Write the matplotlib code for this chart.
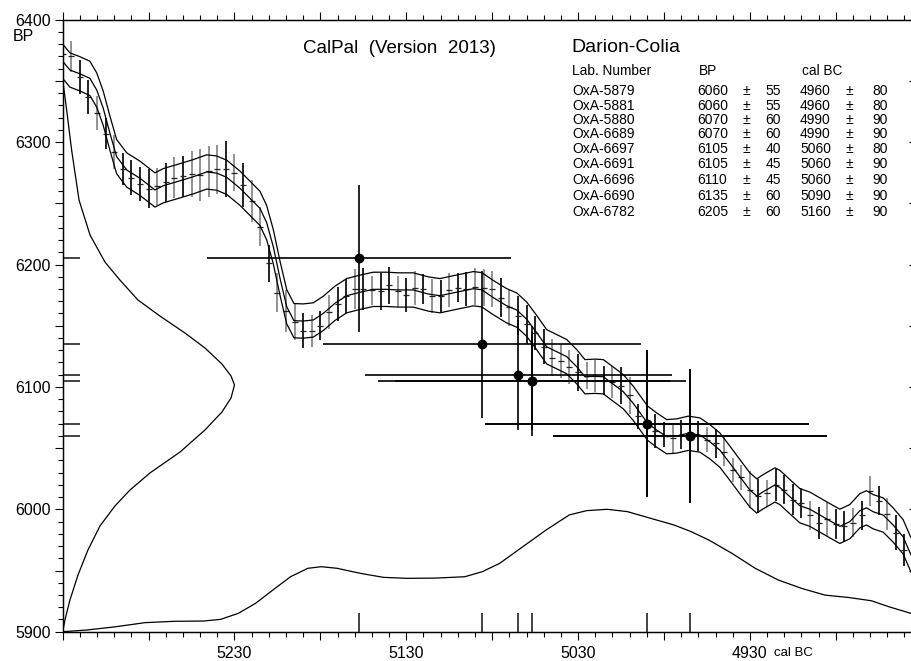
import numpy as np
import matplotlib
matplotlib.use("Agg")
import matplotlib.pyplot as plt
from matplotlib.ticker import FixedLocator, MultipleLocator, FuncFormatter

plt.rcParams["font.family"] = ["Liberation Sans", "DejaVu Sans"]

FIG_W, FIG_H = 911, 661

SITE = "Darion-Colia"
TITLE = "CalPal  (Version  2013)"

# --------------------------------------------------
# 14C dates of the site
# --------------------------------------------------
lab_ids = ["OxA-5879", "OxA-5881", "OxA-5880", "OxA-6689", "OxA-6697",
           "OxA-6691", "OxA-6696", "OxA-6690", "OxA-6782"]
bp = [6060, 6060, 6070, 6070, 6105, 6105, 6110, 6135, 6205]
bp_err = [55, 55, 60, 60, 40, 45, 45, 60, 60]
cal_bc = [4964.7, 4964.7, 4989.7, 4989.7, 5056.7, 5056.7, 5064.9, 5085.9, 5157.5]
cal_err = [79.7, 79.7, 94.3, 94.3, 80.0, 89.6, 89.3, 92.5, 88.5]

# --------------------------------------------------
# calibration curve (centre line, cal BC / BP) and its 1-sigma width
# --------------------------------------------------
curve_cal = [5329.8, 5325.8, 5320.0, 5314.2, 5310.2, 5306.4, 5302.5, 5298.6, 5292.7,
             5285.0, 5276.3, 5271.4, 5263.6, 5254.0, 5246.2, 5240.4, 5234.5, 5226.8,
             5221.0, 5215.2, 5211.3, 5207.4, 5203.5, 5199.6, 5195.4, 5190.0, 5184.1,
             5178.3, 5171.5, 5164.7, 5157.0, 5149.2, 5141.4, 5134.7, 5125.9, 5117.2,
             5110.4, 5100.7, 5091.0, 5086.1, 5079.4, 5071.6, 5065.7, 5059.9, 5054.1,
             5048.3, 5042.5, 5036.6, 5030.8, 5026.0, 5020.2, 5015.3, 5009.5, 5003.7,
             4997.9, 4989.5, 4984.3, 4978.4, 4972.6, 4965.9, 4959.1, 4953.3, 4947.5,
             4941.6, 4935.8, 4930.0, 4926.0, 4922.2, 4915.4, 4912.5, 4906.7, 4900.9,
             4895.1, 4889.2, 4883.4, 4877.6, 4871.8, 4866.0, 4862.1, 4858.2, 4852.4,
             4846.6, 4840.8, 4836.2]
curve_bp = [6365.7, 6358.9, 6355.8, 6352.1, 6342.6, 6327.6, 6307.2, 6288.1, 6277.2,
            6270.4, 6260.9, 6264.4, 6267.6, 6271.7, 6275.6, 6274.7, 6271.2, 6262.3,
            6254.1, 6245.9, 6234.3, 6214.5, 6188.7, 6165.5, 6154.1, 6153.8, 6154.7,
            6160.1, 6168.3, 6174.5, 6177.3, 6179.7, 6179.7, 6179.2, 6179.2, 6175.9,
            6174.5, 6177.4, 6180.2, 6179.4, 6173.0, 6166.3, 6162.8, 6155.3, 6144.4,
            6132.8, 6128.8, 6124.7, 6116.5, 6108.3, 6108.7, 6108.3, 6102.2, 6096.1,
            6086.6, 6070.3, 6064.8, 6059.3, 6059.9, 6062.1, 6060.7, 6055.2, 6048.4,
            6037.6, 6026.6, 6015.8, 6010.9, 6014.4, 6019.9, 6017.8, 6010.3, 6002.9,
            6000.1, 5995.3, 5990.6, 5986.1, 5989.9, 5998.8, 6001.2, 5998.0, 5995.3,
            5987.2, 5977.6, 5962.7]
curve_sigma = 14

# raw calibration data, one value every 5 years
bar_cal = list(range(5330, 4839, -5))
bar_bp = [6372, 6370, 6353, 6337, 6324, 6307, 6292, 6278, 6271, 6266,
          6262, 6264, 6267, 6271, 6272, 6274, 6273, 6276, 6278, 6278,
          6275, 6265, 6252, 6231, 6201, 6177, 6162, 6153, 6146, 6146,
          6150, 6161, 6168, 6174, 6180, 6180, 6179, 6178, 6183, 6178,
          6175, 6181, 6180, 6174, 6174, 6179, 6181, 6180, 6182, 6181,
          6180, 6173, 6165, 6158, 6151, 6144, 6133, 6124, 6121, 6116,
          6112, 6109, 6109, 6105, 6104, 6101, 6093, 6076, 6069, 6064,
          6061, 6058, 6061, 6062, 6060, 6057, 6054, 6047, 6032, 6026,
          6016, 6011, 6013, 6020, 6016, 6008, 6005, 5995, 5989, 5992,
          5988, 5986, 5989, 5995, 6015, 6007, 5996, 5981, 5967]
bar_err = [13, 13, 14, 14, 14, 13, 14, 13, 14, 14,
           16, 15, 16, 17, 17, 19, 21, 21, 20, 23,
           15, 18, 17, 16, 15, 16, 17, 15, 14, 13,
           12, 14, 14, 14, 16, 17, 12, 15, 15, 13,
           14, 14, 12, 14, 13, 14, 12, 14, 15, 15,
           15, 16, 15, 16, 16, 14, 14, 15, 14, 14,
           15, 11, 13, 12, 13, 15, 15, 10, 11, 14,
           10, 12, 12, 12, 12, 10, 12, 12, 10, 10,
           15, 14, 11, 13, 12, 13, 12, 12, 13, 14,
           12, 13, 12, 12, 12, 12, 13, 14, 13]
bar_dark = [1, 0, 1, 1, 0, 1, 0, 1, 1, 1,
            1, 0, 1, 0, 1, 0, 0, 0, 0, 1,
            0, 1, 0, 0, 1, 0, 0, 0, 1, 0,
            1, 0, 1, 1, 0, 1, 0, 1, 1, 0,
            1, 0, 1, 0, 1, 0, 1, 1, 0, 0,
            0, 1, 0, 1, 1, 1, 1, 0, 0, 0,
            1, 0, 0, 1, 0, 1, 0, 1, 0, 1,
            1, 0, 1, 0, 1, 0, 1, 0, 0, 0,
            0, 1, 0, 1, 1, 1, 1, 0, 1, 0,
            1, 1, 0, 1, 0, 1, 0, 1, 1]

# --------------------------------------------------
# summed probabilities, normalised to 1 at the peak
# --------------------------------------------------
bp_dist_bp = [6350.7, 6326.2, 6293.5, 6252.7, 6224.1, 6202.0, 6187.3, 6171.0, 6157.9,
              6144.0, 6131.8, 6118.7, 6108.9, 6101.6, 6091.0, 6079.5, 6064.8, 6046.8,
              6029.7, 6015.8, 6002.7, 5986.4, 5966.8, 5946.3, 5925.8, 5909.6, 5900.0]
bp_dist_p = [0.0, 0.023, 0.052, 0.095, 0.159, 0.246, 0.333, 0.438, 0.566,
             0.712, 0.828, 0.927, 0.980, 1.0, 0.980, 0.927, 0.828, 0.683,
             0.508, 0.392, 0.304, 0.217, 0.147, 0.089, 0.042, 0.013, 0.0]

cal_dist_cal = [5330.0, 5315.8, 5298.9, 5282.0, 5265.0, 5248.2, 5238.0, 5227.8, 5217.7,
                5207.6, 5197.4, 5187.3, 5179.5, 5170.3, 5156.8, 5143.3, 5129.8, 5112.9,
                5096.0, 5085.8, 5075.7, 5062.1, 5048.6, 5035.1, 5025.0, 5013.1, 5001.3,
                4987.7, 4974.2, 4964.1, 4953.9, 4940.4, 4926.9, 4913.4, 4899.9, 4886.3,
                4872.8, 4859.3, 4849.1, 4836.3]
cal_dist_p = [0.0, 0.014, 0.041, 0.074, 0.085, 0.087, 0.101, 0.150, 0.232,
              0.341, 0.449, 0.518, 0.531, 0.518, 0.477, 0.444, 0.436, 0.438,
              0.449, 0.490, 0.558, 0.695, 0.831, 0.954, 0.989, 1.0, 0.981,
              0.926, 0.872, 0.817, 0.749, 0.640, 0.518, 0.422, 0.354, 0.299,
              0.280, 0.253, 0.204, 0.150]

X_LEFT, X_RIGHT = 5330, 4833
Y_BOTTOM, Y_TOP = 5900, 6400
X_LABELS = [5230, 5130, 5030, 4930]
DIST_HEIGHT = 100   # peak of the probability curves in axis units


def fig_xy(x, y):
    """pixel position (from top left) -> figure fraction"""
    return x / FIG_W, 1 - y / FIG_H


def round10(v):
    return int(round(v / 10.0) * 10)


def draw_axes(fig):
    left, bottom = fig_xy(62.7, 631.7)
    right, top = fig_xy(916.5, 19.7)
    ax = fig.add_axes([left, bottom, right - left, top - bottom])
    ax.set_xlim(X_LEFT, X_RIGHT)
    ax.set_ylim(Y_BOTTOM, Y_TOP)

    for s in ax.spines.values():
        s.set_linewidth(1.0)

    ax.xaxis.set_major_locator(FixedLocator(np.arange(5330, 4829, -50)))
    ax.xaxis.set_minor_locator(FixedLocator(np.arange(5330, 4829, -10)))
    ax.xaxis.set_major_formatter(
        FuncFormatter(lambda v, pos: f"{v:.0f}" if round(v) in X_LABELS else ""))

    ax.yaxis.set_major_locator(MultipleLocator(50))
    ax.yaxis.set_minor_locator(MultipleLocator(10))
    ax.yaxis.set_major_formatter(
        FuncFormatter(lambda v, pos: f"{v:.0f}" if round(v) % 100 == 0 else ""))

    ax.tick_params(axis="x", which="both", direction="out", top=True, bottom=True,
                   labelsize=11.5, pad=4.5, width=0.8)
    ax.tick_params(axis="y", which="both", direction="out", left=True, right=False,
                   labelsize=11.5, pad=3, width=0.8)
    ax.tick_params(which="major", length=5.8)
    ax.tick_params(which="minor", length=3.6)

    # right hand side: ticks pointing inwards
    ax_r = ax.twinx()
    ax_r.set_ylim(Y_BOTTOM, Y_TOP)
    ax_r.yaxis.set_major_locator(MultipleLocator(50))
    ax_r.yaxis.set_minor_locator(MultipleLocator(10))
    ax_r.tick_params(axis="y", which="both", direction="in", labelright=False, width=0.8)
    ax_r.tick_params(which="major", length=5.8)
    ax_r.tick_params(which="minor", length=3.6)
    ax_r.spines["right"].set_linewidth(1.0)

    ax.annotate("cal BC", xy=(4930, 0), xycoords=("data", "axes fraction"),
                xytext=(17.5, -17.8), textcoords="offset points",
                fontsize=9.5, ha="left", va="baseline")
    return ax


def draw_curve(ax):
    cal = np.array(curve_cal)
    mid = np.array(curve_bp)
    ax.plot(cal, mid, color="black", lw=0.9, zorder=3)
    ax.plot(cal, mid + curve_sigma, color="black", lw=0.9, zorder=3)
    ax.plot(cal, mid - curve_sigma, color="black", lw=0.9, zorder=3)

    c = np.array(bar_cal)
    v = np.array(bar_bp)
    e = np.array(bar_err)
    cols = ["#111111" if d else "#8a8a8a" for d in bar_dark]
    ax.vlines(c, v - e, v + e, colors=cols, lw=1.3, zorder=2)
    ax.plot(c, v, ls="none", marker="_", ms=4, mew=0.9, color="#222222", zorder=2)


def draw_distributions(ax):
    ax.plot(X_LEFT - DIST_HEIGHT * np.array(bp_dist_p), bp_dist_bp,
            color="black", lw=0.9, zorder=3)
    ax.plot(cal_dist_cal, Y_BOTTOM + DIST_HEIGHT * np.array(cal_dist_p),
            color="black", lw=0.9, zorder=3)


def draw_dates(ax):
    ax.errorbar(cal_bc, bp, xerr=cal_err, yerr=bp_err, fmt="o", color="black",
                ms=6, elinewidth=1.2, capsize=0, zorder=5)

    # marks of the dates on both axes
    ax.hlines(sorted(set(bp)), 0, 0.02, transform=ax.get_yaxis_transform(),
              color="#222222", lw=1.2, zorder=4)
    ax.vlines(sorted(set(cal_bc)), 0, 0.031, transform=ax.get_xaxis_transform(),
              color="#222222", lw=1.2, zorder=4)


def draw_texts(fig):
    fig.text(*fig_xy(12.7, 40.7), "BP", fontsize=11.5, va="baseline")
    fig.text(*fig_xy(303, 52.7), TITLE, fontsize=13.5, va="baseline")
    fig.text(*fig_xy(571, 51.7), SITE, fontsize=14, va="baseline")

    fig.text(*fig_xy(571.7, 75), "Lab. Number", fontsize=9.8, va="baseline")
    fig.text(*fig_xy(699, 75), "BP", fontsize=9.8, va="baseline")
    fig.text(*fig_xy(801.7, 75), "cal BC", fontsize=9.8, va="baseline")

    row_base = [95.2, 109.8, 123.8, 138.5, 153.2, 167.5, 183.8, 200.2, 216.5]
    for i, y in enumerate(row_base):
        kw = dict(fontsize=10, va="baseline")
        fig.text(*fig_xy(572, y), lab_ids[i], **kw)
        fig.text(*fig_xy(697, y), f"{bp[i]}", **kw)
        fig.text(*fig_xy(746, y), "±", ha="center", **kw)
        fig.text(*fig_xy(781, y), f"{bp_err[i]}", ha="right", **kw)
        fig.text(*fig_xy(800, y), f"{round10(cal_bc[i])}", **kw)
        fig.text(*fig_xy(849.5, y), "±", ha="center", **kw)
        fig.text(*fig_xy(888, y), f"{round10(cal_err[i])}", ha="right", **kw)


def main():
    fig = plt.figure(figsize=(FIG_W / 100, FIG_H / 100), dpi=100)
    ax = draw_axes(fig)
    draw_curve(ax)
    draw_distributions(ax)
    draw_dates(ax)
    draw_texts(fig)
    fig.savefig("out.png", dpi=100)
    plt.close(fig)


if __name__ == "__main__":
    main()
